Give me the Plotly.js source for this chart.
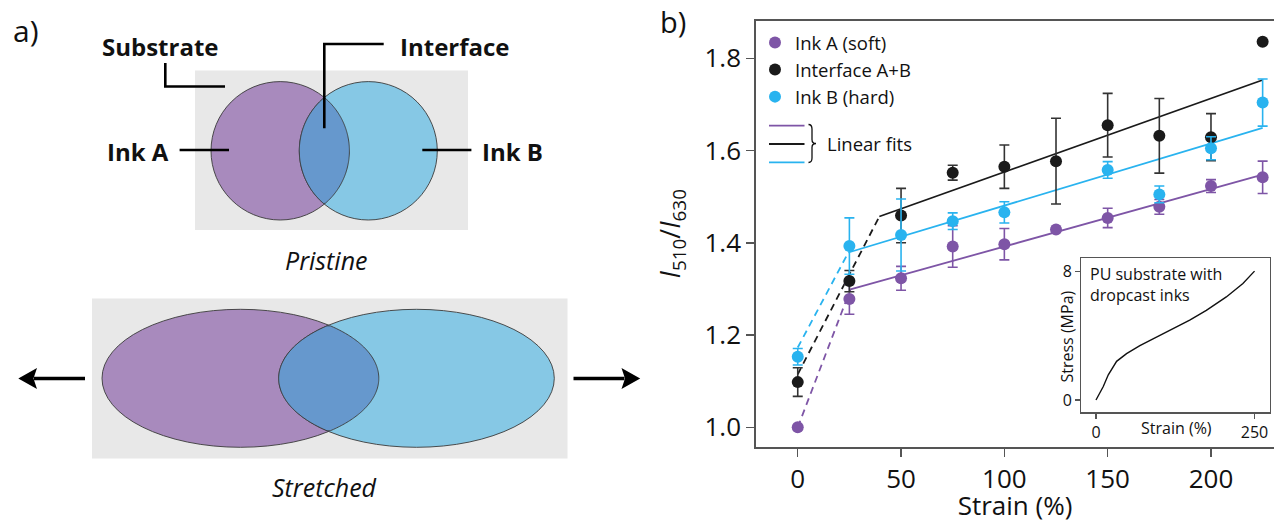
<!DOCTYPE html>
<html><head><meta charset="utf-8">
<script src="https://cdn.plot.ly/plotly-3.0.1.min.js"></script>
<style>html,body{margin:0;padding:0;background:#fff;overflow:hidden}#chart{width:1274px;height:523px}</style>
</head><body><div id="chart"></div>
<script>
// ---------- data (panel b) ----------
const strain      = [0, 25, 50, 75, 100, 125, 150, 175, 200, 225];
const inkA        = [1.000, 1.278, 1.323, 1.392, 1.397, 1.429, 1.454, 1.478, 1.523, 1.542];
const inkAErr     = [0, 0.033, 0.026, 0.045, 0.034, 0, 0.021, 0.016, 0.014, 0.035];
const iface       = [1.098, 1.317, 1.459, 1.552, 1.565, 1.577, 1.655, 1.632, 1.629, 1.836];
const ifaceErr    = [0.031, 0.023, 0.059, 0.016, 0.047, 0.093, 0.069, 0.081, 0.051, 0];
const strainB     = [0, 25, 50, 75, 100, 150, 175, 200, 225];
const inkB        = [1.153, 1.393, 1.417, 1.447, 1.466, 1.558, 1.505, 1.605, 1.704];
const inkBErr     = [0.018, 0.061, 0.078, 0.018, 0.023, 0.018, 0.018, 0.025, 0.051];

// linear fits (solid) and their dashed extrapolations to 0 %
const fitAx = [25.5, 225],  fitAy = [1.299, 1.548];
const fitAdx = [0, 25.5],   fitAdy = [1.000, 1.299];
const fitIx = [39.5, 225],  fitIy = [1.457, 1.753];
const fitIdx = [0, 39.5],   fitIdy = [1.115, 1.457];
const fitBx = [24.5, 225],  fitBy = [1.379, 1.649];
const fitBdx = [0, 24.5],   fitBdy = [1.173, 1.379];

// inset stress-strain curve
const insetStrain = [0, 11.5, 19.4, 32.5, 48.2, 69.2, 95.4, 121.6, 147.8, 174, 205.5, 231.7, 250];
const insetStress = [0, 0.84, 1.57, 2.41, 2.89, 3.39, 3.92, 4.44, 4.98, 5.59, 6.43, 7.27, 8.04];

const seriesNames = ['Ink A (soft)', 'Interface A+B', 'Ink B (hard)'];
const xTicks = [0, 50, 100, 150, 200];
const yTicks = [1.0, 1.2, 1.4, 1.6, 1.8];
const yTickText = ['1.0', '1.2', '1.4', '1.6', '1.8'];

// ---------- styling ----------
const PURPLE = '#7E55A6', CYAN = '#29B3EF', BLACK = '#1A1A1A';
const FONT = 'Open Sans';
const W = 1274, H = 523;
const X = px => px / W, Y = py => 1 - py / H;

function fitTrace(x, y, color, dash) {
  return {x: x, y: y, mode: 'lines', type: 'scatter', showlegend: false, hoverinfo: 'skip',
          line: {color: color, width: 1.8, dash: dash ? '7px,5px' : 'solid'}, xaxis: 'x', yaxis: 'y'};
}
function markerTrace(x, y, err, color, name, errColor) {
  return {x: x, y: y, mode: 'markers', type: 'scatter', name: name,
          marker: {color: color, size: 12},
          error_y: {type: 'data', array: err, visible: true, color: errColor || color, thickness: 1.6, width: 5},
          xaxis: 'x', yaxis: 'y'};
}

const traces = [
  fitTrace(fitAdx, fitAdy, PURPLE, true), fitTrace(fitAx, fitAy, PURPLE, false),
  fitTrace(fitIdx, fitIdy, BLACK, true),  fitTrace(fitIx, fitIy, BLACK, false),
  fitTrace(fitBdx, fitBdy, CYAN, true),   fitTrace(fitBx, fitBy, CYAN, false),
  markerTrace(strain, inkA, inkAErr, PURPLE, seriesNames[0]),
  markerTrace(strain, iface, ifaceErr, BLACK, seriesNames[1], '#333'),
  markerTrace(strainB, inkB, inkBErr, CYAN, seriesNames[2]),
  {x: insetStrain, y: insetStress, mode: 'lines', type: 'scatter', showlegend: false,
   line: {color: '#111', width: 1.4}, xaxis: 'x2', yaxis: 'y2', hoverinfo: 'skip'}
];

// ---------- panel a geometry ----------
const ellPA = {cx: 280.2, cy: 150.8, rx: 69.2, ry: 69.2};
const ellPB = {cx: 368.3, cy: 150.8, rx: 69.0, ry: 69.2};
const ellSA = {cx: 240.4, cy: 378.3, rx: 138.4, ry: 69.0};
const ellSB = {cx: 416.5, cy: 378.3, rx: 137.8, ry: 69.0};
const A_FILL = '#A88ABD', B_FILL = '#86C8E5', AB_FILL = '#6698CD', EDGE = '#3a3a3a';

function inside(E, x, y) { const dx = (x - E.cx) / E.rx, dy = (y - E.cy) / E.ry; return dx*dx + dy*dy <= 1; }
function arcInside(E, F, tc) {
  const pts = [], N = 400;
  for (let i = 0; i <= N; i++) {
    const t = tc - Math.PI + 2 * Math.PI * i / N;
    const x = E.cx + E.rx * Math.cos(t), y = E.cy + E.ry * Math.sin(t);
    if (inside(F, x, y)) pts.push([x, y]);
  }
  return pts;
}
function lensPath(A, B) {
  const pts = arcInside(A, B, 0).concat(arcInside(B, A, Math.PI));
  return pts.map((p, i) => (i ? 'L' : 'M') + X(p[0]).toFixed(5) + ',' + Y(p[1]).toFixed(5)).join(' ') + ' Z';
}
function ellShape(E, fill) {
  return {type: 'circle', xref: 'paper', yref: 'paper', x0: X(E.cx - E.rx), x1: X(E.cx + E.rx),
          y0: Y(E.cy + E.ry), y1: Y(E.cy - E.ry), fillcolor: fill, line: {color: EDGE, width: 0.9}, layer: 'above'};
}
function pxPath(pts, close) {
  return pts.map((p, i) => (i ? 'L' : 'M') + X(p[0]).toFixed(5) + ',' + Y(p[1]).toFixed(5)).join(' ') + (close ? ' Z' : '');
}
function lineShape(pts, width, color) {
  return {type: 'path', xref: 'paper', yref: 'paper', path: pxPath(pts, false), fillcolor: 'rgba(0,0,0,0)',
          line: {color: color || '#000', width: width}, layer: 'above'};
}
function fillShape(pts, color) {
  return {type: 'path', xref: 'paper', yref: 'paper', path: pxPath(pts, true), fillcolor: color,
          line: {width: 0}, layer: 'above'};
}

const shapes = [
  {type: 'rect', xref: 'paper', yref: 'paper', x0: X(195), x1: X(468), y0: Y(230), y1: Y(70.5), fillcolor: '#E8E8E8', line: {width: 0}, layer: 'below'},
  {type: 'rect', xref: 'paper', yref: 'paper', x0: X(92), x1: X(567.5), y0: Y(458.5), y1: Y(298.5), fillcolor: '#E8E8E8', line: {width: 0}, layer: 'below'},
  ellShape(ellPA, A_FILL), ellShape(ellPB, B_FILL),
  {type: 'path', xref: 'paper', yref: 'paper', path: lensPath(ellPA, ellPB), fillcolor: AB_FILL, line: {color: EDGE, width: 0.9}, layer: 'above'},
  ellShape(ellSA, A_FILL), ellShape(ellSB, B_FILL),
  {type: 'path', xref: 'paper', yref: 'paper', path: lensPath(ellSA, ellSB), fillcolor: AB_FILL, line: {color: EDGE, width: 0.9}, layer: 'above'},
  // leader lines
  lineShape([[165.3, 63], [165.3, 86.5], [225, 86.5]], 2.6),
  lineShape([[383.7, 44], [324.3, 44], [324.3, 128.3]], 2.6),
  lineShape([[179.6, 150], [229, 150]], 2.6),
  lineShape([[422.3, 150], [471.4, 150]], 2.6),
  // arrows
  lineShape([[85, 378.5], [34, 378.5]], 3.5),
  fillShape([[18.3, 378.5], [37, 368], [33.5, 378.5], [37, 389]], '#000'),
  lineShape([[573.5, 378.5], [624.5, 378.5]], 3.5),
  fillShape([[640.2, 378.5], [621.5, 368], [625, 378.5], [621.5, 389]], '#000'),
  // linear-fit legend keys
  lineShape([[769, 125.7], [804.5, 125.7]], 1.8, PURPLE),
  lineShape([[769, 144], [804.5, 144]], 1.8, BLACK),
  lineShape([[769, 162.3], [804.5, 162.3]], 1.8, CYAN),
  {type: 'path', xref: 'paper', yref: 'paper', fillcolor: 'rgba(0,0,0,0)', line: {color: '#111', width: 1.3},
   path: 'M' + X(808.5) + ',' + Y(124.5) + ' Q' + X(812) + ',' + Y(124.5) + ' ' + X(812) + ',' + Y(129) +
         ' L' + X(812) + ',' + Y(139.5) + ' Q' + X(812) + ',' + Y(143.5) + ' ' + X(816) + ',' + Y(143.5) +
         ' Q' + X(812) + ',' + Y(143.5) + ' ' + X(812) + ',' + Y(147.5) +
         ' L' + X(812) + ',' + Y(158) + ' Q' + X(812) + ',' + Y(162.5) + ' ' + X(808.5) + ',' + Y(162.5)}
];

function ann(text, px, py, size, opts) {
  return Object.assign({text: text, xref: 'paper', yref: 'paper', x: X(px), y: Y(py), showarrow: false,
    xanchor: 'center', yanchor: 'middle', font: {family: FONT, size: size, color: '#111'}}, opts || {});
}
const annotations = [
  ann('a)', 25.5, 30, 30),
  ann('b)', 672.5, 22, 29),
  ann('<b>Substrate</b>', 160.8, 46, 24),
  ann('<b>Interface</b>', 454.7, 46, 24),
  ann('<b>Ink A</b>', 138.2, 151, 24),
  ann('<b>Ink B</b>', 512.2, 151, 24),
  ann('<i>Pristine</i>', 326.1, 260, 25),
  ann('<i>Stretched</i>', 324.5, 487, 25),
  ann('Linear fits', 825, 143.5, 18.5, {xanchor: 'left'}),
  ann('PU substrate with<br>dropcast inks', 1088, 284, 16, {xanchor: 'left', align: 'left'}),
  ann('Strain (%)', 1176.4, 427.5, 16),
  ann('Stress (MPa)', 1066, 336.5, 16, {textangle: -90})
];

const axisCommon = {showgrid: false, zeroline: false, showline: true, linecolor: '#555', linewidth: 1.8,
                    ticks: 'outside', tickcolor: '#555', tickwidth: 1.4};

const layout = {
  width: W, height: H, margin: {l: 0, r: 0, t: 0, b: 0},
  paper_bgcolor: '#fff', plot_bgcolor: 'rgba(0,0,0,0)',
  font: {family: FONT, color: '#111'},
  showlegend: true,
  legend: {x: X(755), y: Y(24), xanchor: 'left', yanchor: 'top', bgcolor: 'rgba(0,0,0,0)',
           font: {family: FONT, size: 18.5, color: '#111'}, tracegroupgap: 0},
  xaxis: Object.assign({}, axisCommon, {domain: [X(756), 1], range: [-20.2, 230.5], anchor: 'y', mirror: true,
           tickvals: xTicks, ticklen: 8, tickfont: {family: FONT, size: 26, color: '#111'},
           title: {text: 'Strain (%)', font: {family: FONT, size: 26, color: '#111'}, standoff: 11}}),
  yaxis: Object.assign({}, axisCommon, {domain: [Y(446.7), Y(20.7)], range: [0.958, 1.8815], anchor: 'x',
           tickvals: yTicks, ticktext: yTickText, ticklen: 8, tickfont: {family: FONT, size: 26, color: '#111'},
           title: {text: '<i>I</i><sub>510</sub>/<i>I</i><sub>630</sub>', font: {family: FONT, size: 27, color: '#111'}, standoff: 16}}),
  xaxis2: Object.assign({}, axisCommon, {domain: [X(1081.4), X(1270)], range: [-23, 274.4], anchor: 'y2', mirror: true,
           linewidth: 1.4, tickwidth: 1.2, ticklen: 5, tickvals: [0, 250], tickfont: {family: FONT, size: 16, color: '#111'}}),
  yaxis2: Object.assign({}, axisCommon, {domain: [Y(412.3), Y(258.3)], range: [-0.77, 8.84], anchor: 'x2', mirror: true,
           linewidth: 1.4, tickwidth: 1.2, ticklen: 5, tickvals: [0, 8], tickfont: {family: FONT, size: 16, color: '#111'}}),
  shapes: shapes,
  annotations: annotations
};

Plotly.newPlot('chart', traces, layout, {staticPlot: true, displayModeBar: false});
</script></body></html>
